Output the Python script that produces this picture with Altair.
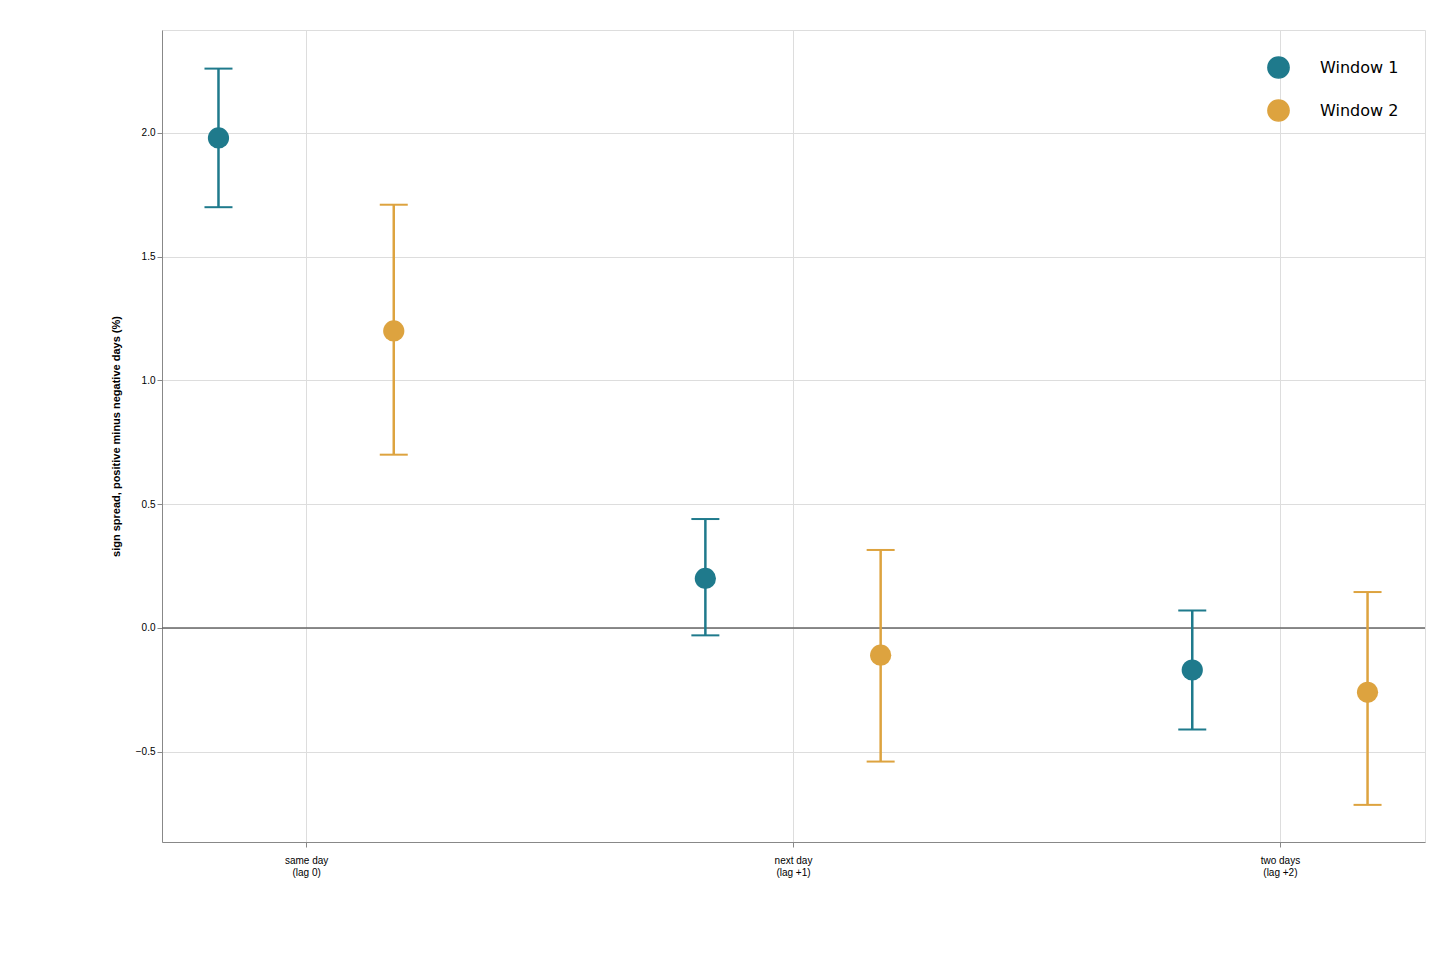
import altair as alt
import pandas as pd

# --- data ---
lags = [0, 1, 2]
windows = ["Window 1", "Window 2"]
offsets = {"Window 1": -0.18, "Window 2": 0.18}
w1_mean = [1.98, 0.20, -0.17]
w1_low = [1.70, -0.03, -0.41]
w1_high = [2.26, 0.44, 0.07]
w2_mean = [1.20, -0.11, -0.26]
w2_low = [0.70, -0.54, -0.715]
w2_high = [1.71, 0.315, 0.145]

rows = []
for w, m, lo, hi in [("Window 1", w1_mean, w1_low, w1_high), ("Window 2", w2_mean, w2_low, w2_high)]:
    for i, lag in enumerate(lags):
        rows.append({"window": w, "x": lag + offsets[w], "mean": m[i], "low": lo[i], "high": hi[i]})
df = pd.DataFrame(rows)

FONT = "DejaVu Sans"
color = alt.Color("window:N", scale=alt.Scale(domain=windows, range=["#1f7a8c", "#dda33f"]),
                  legend=alt.Legend(title=None, orient="top-right", symbolType="circle", symbolSize=450,
                                    symbolOpacity=1, labelFontSize=16, labelFont=FONT, labelOffset=30,
                                    padding=8, rowPadding=14, offset=18))

x = alt.X("x:Q", scale=alt.Scale(domain=[-0.296, 2.298], nice=False, zero=False),
          axis=alt.Axis(values=lags, title=None, labelPadding=8,
                        labelExpr="datum.value == 0 ? ['same day','(lag 0)'] : datum.value == 1 ? ['next day','(lag +1)'] : ['two days','(lag +2)']"))
yscale = alt.Scale(domain=[-0.865, 2.416], nice=False, zero=False)
yaxis = alt.Axis(values=[-0.5, 0, 0.5, 1.0, 1.5, 2.0], format=".1f",
                 title="sign spread, positive minus negative days (%)", titlePadding=14)
y = alt.Y("mean:Q", scale=yscale, axis=yaxis)

base = alt.Chart(df)
zero = alt.Chart(pd.DataFrame({"z": [0]})).mark_rule(color="#666666", strokeWidth=1.5).encode(
    y=alt.Y("z:Q", scale=yscale, axis=yaxis))
rules = base.mark_rule(strokeWidth=2.5, opacity=1).encode(
    x=x, y=alt.Y("low:Q", scale=yscale, axis=yaxis), y2="high:Q", color=color)
caps_lo = base.mark_tick(orient="horizontal", size=28, thickness=2, opacity=1).encode(
    x=x, y=alt.Y("low:Q", scale=yscale, axis=yaxis), color=color)
caps_hi = base.mark_tick(orient="horizontal", size=28, thickness=2, opacity=1).encode(
    x=x, y=alt.Y("high:Q", scale=yscale, axis=yaxis), color=color)
points = base.mark_circle(size=450, opacity=1).encode(x=x, y=y, color=color)

chart = alt.layer(zero, rules, caps_lo, caps_hi, points).properties(
    width=1263, height=812, autosize="none",
    padding={"left": 154, "top": 22, "right": 23, "bottom": 106},
).configure_view(stroke="transparent").configure_axis(
    grid=False, labelFontSize=17, labelFont=FONT, labelColor="black",
    titleFontSize=17, titleFont=FONT, titleFontWeight="normal", titleColor="black",
    tickSize=7, tickColor="black", tickWidth=1.2, domainColor="black", domainWidth=1.2,
).configure(background="white")

chart.save("out.html", embed_options={"renderer": "svg", "actions": False})
